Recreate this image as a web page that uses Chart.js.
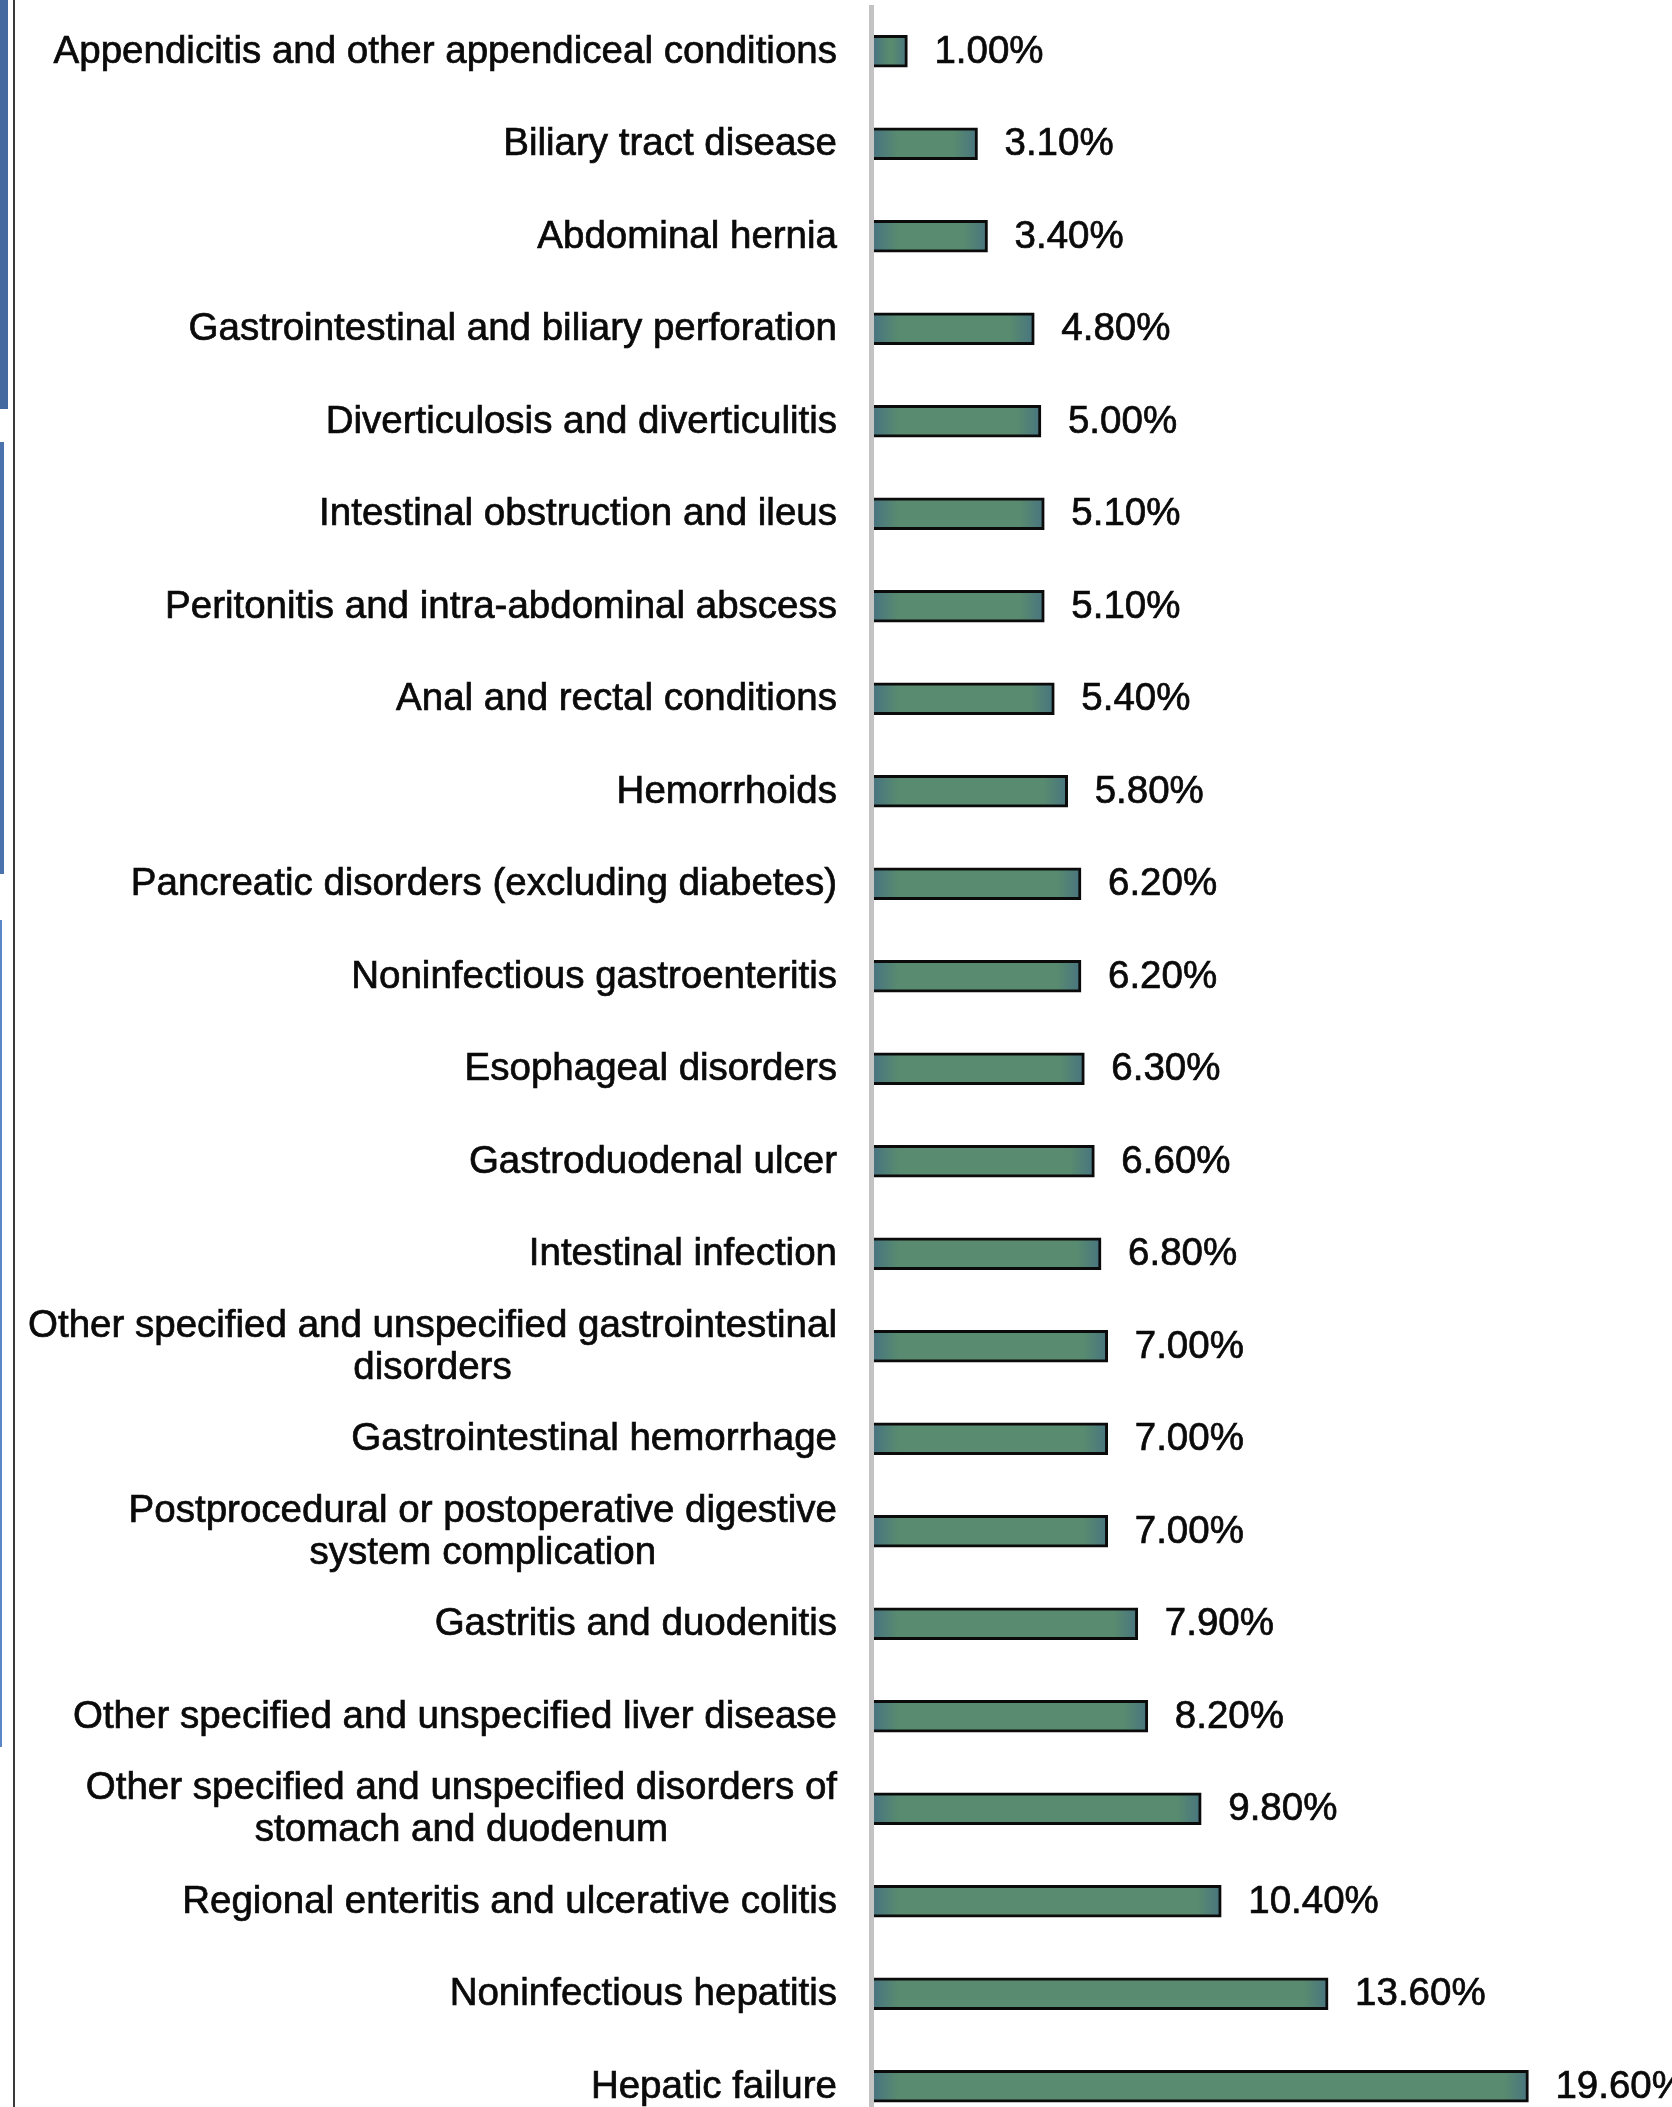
<!DOCTYPE html>
<html>
<head>
<meta charset="utf-8">
<script src="https://cdn.jsdelivr.net/npm/chart.js@4.4.1/dist/chart.umd.min.js"></script>
<style>
  html, body { margin: 0; padding: 0; width: 1672px; height: 2107px; overflow: hidden; background: #ffffff; }
  #wrap { position: relative; width: 1672px; height: 2107px; overflow: hidden; background: #ffffff; }
  #c { position: absolute; left: 0; top: 0; }
  .strip { position: absolute; left: 0; }
</style>
</head>
<body>
<div id="wrap">
  <canvas id="c" width="1672" height="2136"></canvas>
  <div class="strip" style="top:0;height:409px;width:8px;background:#4468a0;"></div>
  <div class="strip" style="top:442px;height:432px;width:4px;background:#4a72ad;"></div>
  <div class="strip" style="top:920px;height:827px;width:2px;background:#5a86c8;"></div>
  <div class="strip" style="left:13px;top:0;height:2107px;width:2px;background:#3a3a3a;"></div>
</div>
<script>
const categories = [
  "Appendicitis and other appendiceal conditions",
  "Biliary tract disease",
  "Abdominal hernia",
  "Gastrointestinal and biliary perforation",
  "Diverticulosis and diverticulitis",
  "Intestinal obstruction and ileus",
  "Peritonitis and intra-abdominal abscess",
  "Anal and rectal conditions",
  "Hemorrhoids",
  "Pancreatic disorders (excluding diabetes)",
  "Noninfectious gastroenteritis",
  "Esophageal disorders",
  "Gastroduodenal ulcer",
  "Intestinal infection",
  ["Other specified and unspecified gastrointestinal", "disorders"],
  "Gastrointestinal hemorrhage",
  ["Postprocedural or postoperative digestive", "system complication"],
  "Gastritis and duodenitis",
  "Other specified and unspecified liver disease",
  ["Other specified and unspecified disorders of", "stomach and duodenum"],
  "Regional enteritis and ulcerative colitis",
  "Noninfectious hepatitis",
  "Hepatic failure"
];
const values = [1.0, 3.1, 3.4, 4.8, 5.0, 5.1, 5.1, 5.4, 5.8, 6.2, 6.2, 6.3, 6.6, 6.8, 7.0, 7.0, 7.0, 7.9, 8.2, 9.8, 10.4, 13.6, 19.6];
const valueLabels = ["1.00%", "3.10%", "3.40%", "4.80%", "5.00%", "5.10%", "5.10%", "5.40%", "5.80%", "6.20%", "6.20%", "6.30%", "6.60%", "6.80%", "7.00%", "7.00%", "7.00%", "7.90%", "8.20%", "9.80%", "10.40%", "13.60%", "19.60%"];

const FONT = '38.5px "Liberation Sans", Arial, sans-serif';
const TEXT_COLOR = '#0a0a0a';

function barFill(context) {
  const chart = context.chart;
  const area = chart.chartArea;
  if (!area) return '#578a70';
  const xs = chart.scales.x;
  const x0 = xs.getPixelForValue(0);
  const x1 = xs.getPixelForValue(values[context.dataIndex]);
  const w = Math.max(1, x1 - x0);
  const g = chart.ctx.createLinearGradient(x0, 0, x1, 0);
  const f = Math.min(0.45, 24 / w);
  g.addColorStop(0, '#487480');
  g.addColorStop(f, '#588b6f');
  g.addColorStop(1 - f, '#588b6f');
  g.addColorStop(1, '#487480');
  return g;
}

function drawText(ctx, s, x, y) {
  ctx.fillText(s, x, y);
  ctx.strokeText(s, x, y);
}

const labelPlugin = {
  id: 'labelPlugin',
  beforeDatasetsDraw(chart) {
    const ctx = chart.ctx;
    const area = chart.chartArea;
    ctx.save();
    ctx.strokeStyle = '#c3c3c3';
    ctx.lineWidth = 5;
    ctx.beginPath();
    ctx.moveTo(area.left - 2.5, area.top);
    ctx.lineTo(area.left - 2.5, chart.height);
    ctx.stroke();
    ctx.restore();
  },
  afterDatasetsDraw(chart) {
    const ctx = chart.ctx;
    const area = chart.chartArea;
    const ys = chart.scales.y;
    const meta = chart.getDatasetMeta(0);
    ctx.save();
    ctx.font = FONT;
    ctx.fillStyle = TEXT_COLOR;
    ctx.strokeStyle = TEXT_COLOR;
    ctx.lineWidth = 0.7;
    ctx.textBaseline = 'middle';
    const rightEdge = area.left - 37;
    const lineH = 42;
    categories.forEach((lab, i) => {
      const y = ys.getPixelForValue(i) + 1;
      const lines = Array.isArray(lab) ? lab : [lab];
      let maxW = 0;
      lines.forEach(l => { maxW = Math.max(maxW, ctx.measureText(l).width); });
      const cx = rightEdge - maxW / 2;
      ctx.textAlign = 'center';
      lines.forEach((l, j) => {
        drawText(ctx, l, cx, y + (j - (lines.length - 1) / 2) * lineH);
      });
    });
    ctx.textAlign = 'left';
    meta.data.forEach((bar, i) => {
      drawText(ctx, valueLabels[i], bar.x + 27, bar.y + 1);
    });
    ctx.restore();
  }
};

new Chart(document.getElementById('c'), {
  type: 'bar',
  data: {
    labels: categories,
    datasets: [{
      data: values,
      backgroundColor: barFill,
      borderColor: '#0b0b0b',
      borderWidth: 3,
      borderSkipped: 'start',
      barThickness: 32
    }]
  },
  options: {
    indexAxis: 'y',
    responsive: false,
    animation: false,
    events: [],
    layout: { padding: { left: 874, right: 0, top: 5, bottom: 3.5 } },
    plugins: { legend: { display: false }, tooltip: { enabled: false } },
    scales: {
      x: { display: false, min: 0, max: 23.9, grid: { display: false } },
      y: { display: false, offset: true, grid: { display: false } }
    }
  },
  plugins: [labelPlugin]
});
</script>
</body>
</html>
